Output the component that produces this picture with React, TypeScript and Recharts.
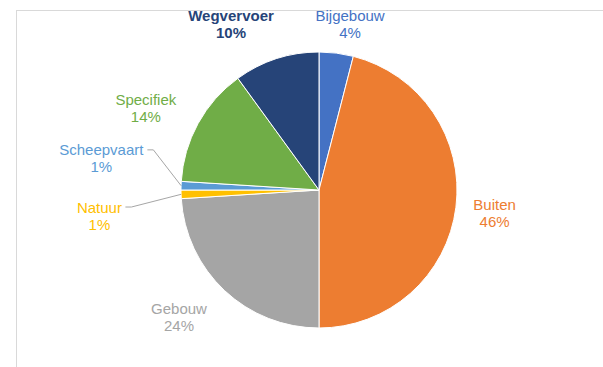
import React from 'react';
import { PieChart, Pie, Cell } from 'recharts';

const categories = ['Bijgebouw', 'Buiten', 'Gebouw', 'Natuur', 'Scheepvaart', 'Specifiek', 'Wegvervoer'];
const shares = [4, 46, 24, 1, 1, 14, 10];
const colors = ['#4472C4', '#ED7D31', '#A5A5A5', '#FFC000', '#5B9BD5', '#70AD47', '#264478'];

const data = categories.map((name, i) => ({ name, value: shares[i] }));

// label placement: distance from the centre and a small turn away from the slice middle (degrees)
const labelPlacement: Record<string, { dist: number; turn: number; leader?: boolean; bold?: boolean }> = {
  Bijgebouw: { dist: 169, turn: -3.4 },
  Buiten: { dist: 177, turn: 0 },
  Gebouw: { dist: 189, turn: -4.6 },
  Natuur: { dist: 221, turn: 4.7, leader: true },
  Scheepvaart: { dist: 220, turn: -6.6, leader: true },
  Specifiek: { dist: 192, turn: 3.2 },
  Wegvervoer: { dist: 188, turn: 9.9, bold: true },
};

const RADIAN = Math.PI / 180;
const FONT = '"Liberation Sans", Arial, sans-serif';
const FONT_SIZE = 15;

const renderLabel = (props: any) => {
  const { cx, cy, midAngle, outerRadius, name, value, index } = props;
  const p = labelPlacement[name];
  const a = (midAngle + p.turn) * RADIAN;
  const x = cx + p.dist * Math.cos(a);
  const y = cy - p.dist * Math.sin(a);
  const color = colors[index];

  let leader = null;
  if (p.leader) {
    const m = midAngle * RADIAN;
    const ex = cx + outerRadius * Math.cos(m);
    const ey = cy - outerRadius * Math.sin(m);
    const sx = x + (name.length * 8) / 2 + 2;
    const sy = y - 8;
    leader = (
      <polyline
        points={`${sx},${sy} ${sx + 6},${sy} ${ex},${ey}`}
        fill="none"
        stroke="#A6A6A6"
        strokeWidth={1}
      />
    );
  }

  return (
    <g>
      {leader}
      <text
        x={x}
        y={y - 8}
        textAnchor="middle"
        dominantBaseline="central"
        fill={color}
        fontSize={FONT_SIZE}
        fontWeight={p.bold ? 'bold' : 'normal'}
        fontFamily={FONT}
      >
        {name}
      </text>
      <text
        x={x}
        y={y + 9}
        textAnchor="middle"
        dominantBaseline="central"
        fill={color}
        fontSize={FONT_SIZE}
        fontWeight={p.bold ? 'bold' : 'normal'}
        fontFamily={FONT}
      >
        {value}%
      </text>
    </g>
  );
};

const App: React.FC = () => {
  return (
    <div style={{ position: 'fixed', left: 0, top: 0, width: 603, height: 367, background: '#fff' }}>
      <div
        style={{
          position: 'absolute',
          left: 16,
          top: 10,
          right: 0,
          bottom: 0,
          borderTop: '1px solid #D9D9D9',
          borderLeft: '1px solid #D9D9D9',
        }}
      />
      <div style={{ position: 'absolute', left: 0, top: 0 }}>
        <PieChart width={603} height={367} margin={{ top: 0, right: 0, bottom: 0, left: 0 }}>
          <Pie
            data={data}
            dataKey="value"
            nameKey="name"
            cx={319}
            cy={190}
            outerRadius={138}
            startAngle={90}
            endAngle={-270}
            stroke="#fff"
            strokeWidth={1}
            label={renderLabel}
            labelLine={false}
            isAnimationActive={false}
          >
            {data.map((d, i) => (
              <Cell key={d.name} fill={colors[i]} />
            ))}
          </Pie>
        </PieChart>
      </div>
    </div>
  );
};

export default App;
